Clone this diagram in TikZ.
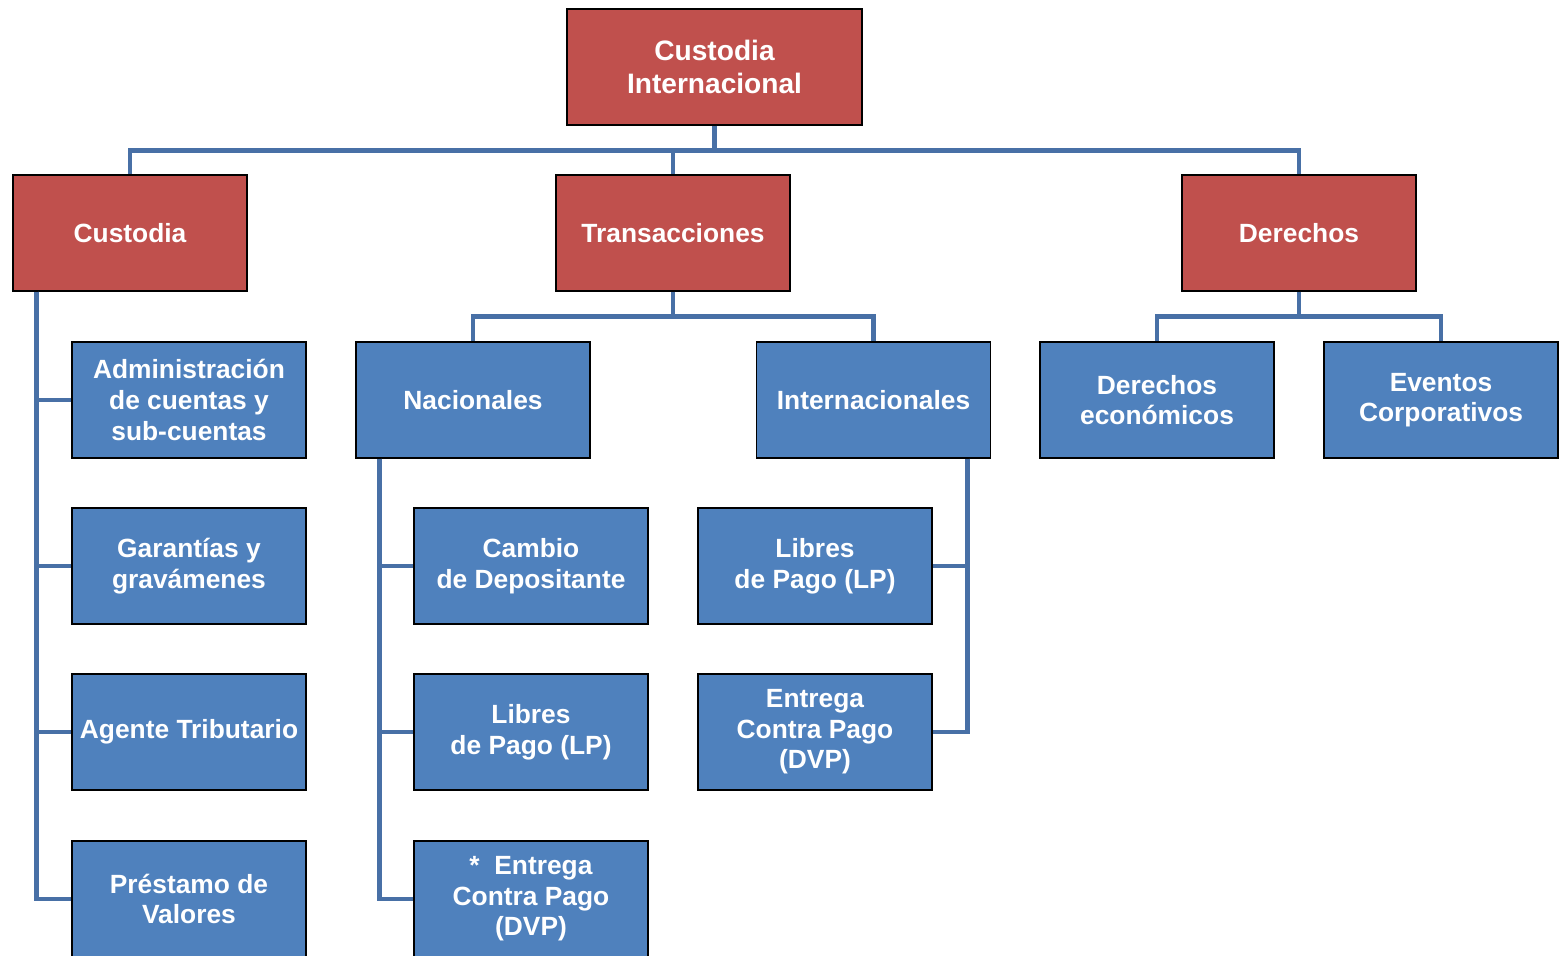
\documentclass[tikz,border=0pt]{standalone}
\usepackage{fontspec}
\setmainfont{Liberation Sans}
\usepackage[svgnames]{xcolor}
\usetikzlibrary{calc}

\definecolor{boxred}{RGB}{192,80,77}
\definecolor{boxblue}{RGB}{79,129,189}
\definecolor{linkblue}{RGB}{72,112,166}

\tikzset{
  box/.style={draw=black, line width=0.8pt, text=white, align=center,
    minimum width=4.68cm, minimum height=2.32cm, inner sep=0pt,
    font=\bfseries\fontsize{15}{17.4}\selectfont},
  redbox/.style={box, fill=boxred},
  bluebox/.style={box, fill=boxblue},
  link/.style={draw=linkblue, line width=2.8pt}
}

\begin{document}
\begin{tikzpicture}[x=0.02cm, y=-0.02cm]
\useasboundingbox (0,0) rectangle (1561,956);

\node[redbox, minimum width=5.9cm, font=\bfseries\fontsize{16}{18.4}\selectfont] (root) at (714.5,67) {Custodia\\Internacional};
\node[redbox] (cust) at (130,233) {Custodia};
\node[redbox] (trans) at (673,233) {Transacciones};
\node[redbox] (der) at (1299,233) {Derechos};

\node[bluebox] (adm) at (189,400) {Administración\\de cuentas y\\sub-cuentas};
\node[bluebox] (gar) at (189,566) {Garantías y\\gravámenes};
\node[bluebox] (age) at (189,732) {Agente Tributario};
\node[bluebox] (pre) at (189,899) {Préstamo de\\Valores};

\node[bluebox] (nac) at (473,400) {Nacionales};
\node[bluebox] (int) at (873.5,400) {Internacionales};
\node[bluebox] (cam) at (531,566) {Cambio\\de Depositante};
\node[bluebox] (nlp) at (531,732) {Libres\\de Pago (LP)};
\node[bluebox] (ndvp) at (531,899) {*\ \ Entrega\\Contra Pago\\(DVP)};
\node[bluebox] (ilp) at (815,566) {Libres\\de Pago (LP)};
\node[bluebox] (idvp) at (815,732) {Entrega\\Contra Pago\\(DVP)};

\node[bluebox] (eco) at (1157,400) {Derechos\\económicos};
\node[bluebox] (eve) at (1441,400) {Eventos\\Corporativos};

\coordinate (bus) at ($(root.south)+(0,25)$);
\coordinate (tbus) at ($(trans.south)+(0,25)$);
\coordinate (dbus) at ($(der.south)+(0,25)$);

\draw[link] (root.south) -- (bus) -| (cust.north);
\draw[link] (bus) -| (trans.north);
\draw[link] (bus) -| (der.north);

\draw[link] (trans.south) -- (tbus) -| (nac.north);
\draw[link] (tbus) -| (int.north);

\draw[link] (der.south) -- (dbus) -| (eco.north);
\draw[link] (dbus) -| (eve.north);

\foreach \n in {adm,gar,age,pre}
  \draw[link] ($(cust.south west)+(24,0)$) |- (\n.west);
\foreach \n in {cam,nlp,ndvp}
  \draw[link] ($(nac.south west)+(24,0)$) |- (\n.west);
\foreach \n in {ilp,idvp}
  \draw[link] ($(int.south east)+(-24,0)$) |- (\n.east);
\end{tikzpicture}
\end{document}
